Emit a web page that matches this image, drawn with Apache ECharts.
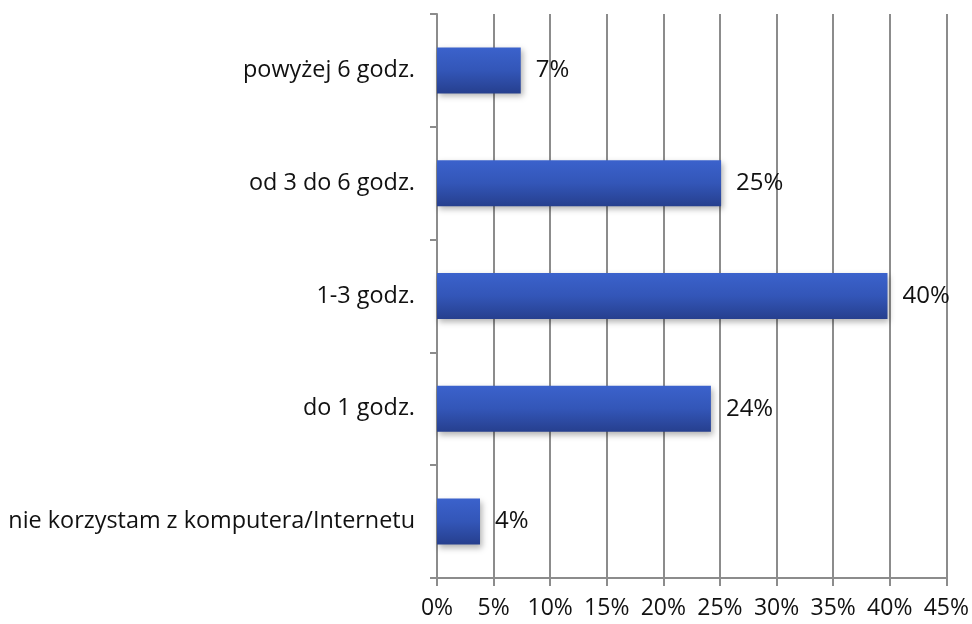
<!DOCTYPE html>
<html>
<head>
<meta charset="utf-8">
<script src="https://cdn.jsdelivr.net/npm/echarts@6/dist/echarts.min.js"></script>
<style>html,body{margin:0;padding:0;background:#fff}#c{width:972px;height:624px}</style>
</head>
<body>
<div id="c"></div>
<script>
const categories = ["nie korzystam z komputera/Internetu", "do 1 godz.", "1-3 godz.", "od 3 do 6 godz.", "powyżej 6 godz."];
const values = [3.8, 24.2, 39.8, 25.1, 7.4];
const xTicks = [0, 5, 10, 15, 20, 25, 30, 35, 40, 45];

const chart = echarts.init(document.getElementById('c'));
const font = '"Open Sans", "Liberation Sans", sans-serif';
chart.setOption({
  animation: false,
  grid: {left: 437, right: 25, top: 14, bottom: 46, containLabel: false},
  xAxis: {
    type: 'value', min: xTicks[0], max: xTicks[xTicks.length - 1], interval: 5,
    axisLine: {show: true, lineStyle: {color: '#8c8c8c', width: 2}},
    axisTick: {show: true, length: 8, lineStyle: {color: '#8c8c8c', width: 2}},
    splitLine: {show: true, lineStyle: {color: '#8c8c8c', width: 2}},
    axisLabel: {formatter: v => v + '%', color: '#111', fontSize: 23, fontFamily: font, margin: 19}
  },
  yAxis: {
    type: 'category', data: categories,
    axisLine: {show: true, lineStyle: {color: '#8c8c8c', width: 2}},
    axisTick: {show: true, length: 7, lineStyle: {color: '#8c8c8c', width: 2}},
    axisLabel: {color: '#111', fontSize: 23.4, fontFamily: font, margin: 22}
  },
  series: [{
    type: 'bar', data: values, barWidth: 46,
    itemStyle: {
      color: new echarts.graphic.LinearGradient(0, 0, 0, 1, [
        {offset: 0, color: '#3b62cc'},
        {offset: 0.5, color: '#3356b8'},
        {offset: 1, color: '#263f8e'}
      ]),
      shadowColor: 'rgba(0,0,0,0.3)', shadowBlur: 6, shadowOffsetX: 2, shadowOffsetY: 3
    },
    label: {show: true, position: 'right', distance: 15, formatter: p => Math.round(p.value) + '%',
      color: '#111', fontSize: 24, fontFamily: font}
  }]
});
</script>
</body>
</html>
